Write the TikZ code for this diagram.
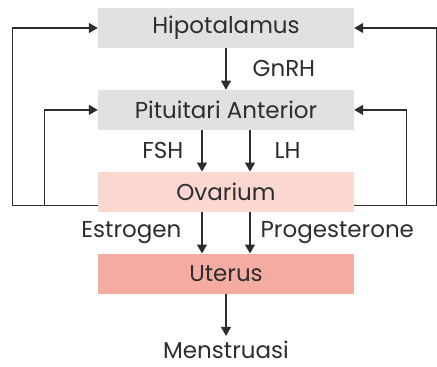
\documentclass[tikz,border=0pt]{standalone}
\usepackage{fontspec}
\setmainfont{Poppins}
\usetikzlibrary{arrows.meta,positioning}
\definecolor{grey}{RGB}{225,225,225}
\definecolor{blush}{RGB}{251,215,210}
\definecolor{salmon}{RGB}{244,171,161}
\definecolor{ink}{RGB}{45,45,45}
\tikzset{
  arr/.style={-{Triangle[length=9pt,width=10pt]},line width=1.3pt,draw=ink},
  box/.style={minimum width=256pt,minimum height=40pt,inner sep=0pt,text=ink,font=\fontsize{23}{26}\selectfont},
  lab/.style={font=\fontsize{23}{26}\selectfont,text=ink,inner sep=0pt}
}

\begin{document}
\begin{tikzpicture}[node distance=41.5pt]
  \useasboundingbox (0,0) rectangle (437pt,-367pt);
  \node[box,fill=grey] (hyp) at (226pt,-28pt) {Hipotalamus};
  \node[box,fill=grey,below=of hyp] (pit) {Pituitari Anterior};
  \node[box,fill=blush,below=of pit] (ov) {Ovarium};
  \node[box,fill=salmon,below=of ov] (ut) {Uterus};
  \node[lab,below=47pt of ut] (men) {Menstruasi};
  % turning points of the feedback loops
  \coordinate (lo) at ([xshift=-85pt]hyp.west);
  \coordinate (li) at ([xshift=-53pt]pit.west);
  \coordinate (ri) at ([xshift=52pt]pit.east);
  \coordinate (ro) at ([xshift=82pt]hyp.east);
  % main chain
  \draw[arr] (hyp) -- node[lab,right=26pt] {GnRH} (pit);
  \draw[arr] ([xshift=-24pt]pit.south) -- node[lab,left=18pt] {FSH} ([xshift=-24pt]ov.north);
  \draw[arr] ([xshift=24pt]pit.south) -- node[lab,right=24pt] {LH} ([xshift=24pt]ov.north);
  \draw[arr] ([xshift=-24pt]ov.south) -- node[lab,left=20pt] {Estrogen} ([xshift=-24pt]ut.north);
  \draw[arr] ([xshift=24pt]ov.south) -- node[lab,right=10pt] {Progesterone} ([xshift=24pt]ut.north);
  \draw[arr,shorten >=5pt] (ut) -- (men);
  % feedback
  \draw[arr] ([yshift=-14pt]ov.west) -| (lo) -- (hyp.west);
  \draw[arr] ([yshift=-14pt]ov.west) -| (li) -- (pit.west);
  \draw[arr] ([yshift=-14pt]ov.east) -| (ri) -- (pit.east);
  \draw[arr] ([yshift=-14pt]ov.east) -| (ro) -- (hyp.east);
\end{tikzpicture}
\end{document}
